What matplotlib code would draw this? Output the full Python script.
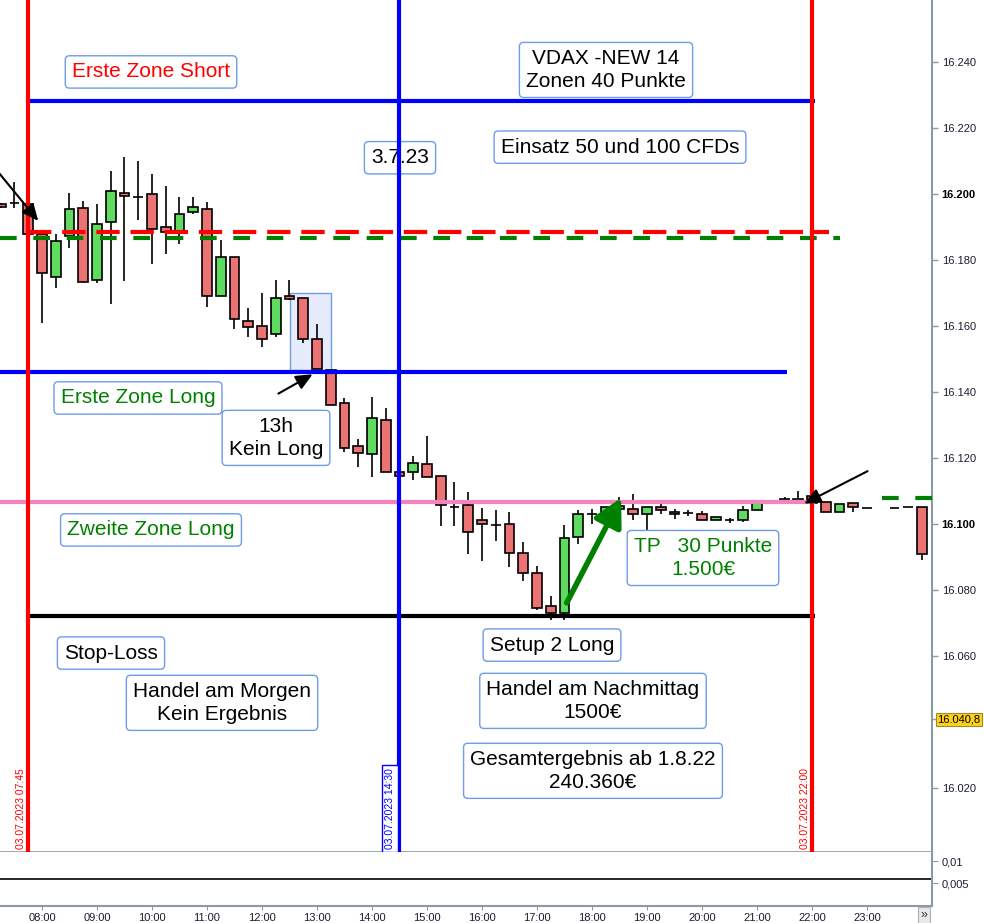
import matplotlib.pyplot as plt
import matplotlib.ticker as mticker
from matplotlib.patches import Rectangle

# 15-minute candles, 03.07.2023
times = ["07:15", "07:30", "07:45", "08:00", "08:15", "08:30", "08:45", "09:00",
         "09:15", "09:30", "09:45", "10:00", "10:15", "10:30", "10:45", "11:00",
         "11:15", "11:30", "11:45", "12:00", "12:15", "12:30", "12:45", "13:00",
         "13:15", "13:30", "13:45", "14:00", "14:15", "14:30", "14:45", "15:00",
         "15:15", "15:30", "15:45", "16:00", "16:15", "16:30", "16:45", "17:00",
         "17:15", "17:30", "17:45", "18:00", "18:15", "18:30", "18:45", "19:00",
         "19:15", "19:30", "19:45", "20:00", "20:15", "20:30", "20:45", "21:00",
         "21:15", "21:30", "21:45", "22:00", "22:15", "22:30", "22:45", "23:00",
         "23:30", "23:45", "00:00"]
opens = [16197.0, 16197.3, 16197.0, 16187.9, 16174.8, 16187.3, 16195.8, 16173.9,
         16191.5, 16200.3, 16199.1, 16200.0, 16190.0, 16188.2, 16194.5, 16195.5,
         16169.1, 16180.9, 16161.5, 16160.0, 16157.6, 16169.1, 16168.5, 16156.1,
         16146.7, 16136.7, 16123.6, 16121.2, 16131.5, 16115.8, 16115.8, 16118.2,
         16114.5, 16105.2, 16105.8, 16101.2, 16099.7, 16100.0, 16091.2, 16085.2,
         16075.2, 16073.0, 16096.1, 16103.0, 16103.6, 16104.5, 16104.5, 16103.0,
         16105.2, 16103.6, 16103.3, 16103.0, 16101.2, 16101.2, 16101.2, 16104.2,
         16106.7, 16107.6, 16106.4, 16108.5, 16106.7, 16103.6, 16106.4, 16104.8,
         16104.8, 16105.2, 16105.2]
highs = [16197.3, 16203.6, 16197.0, 16187.9, 16187.9, 16200.3, 16197.9, 16197.0,
         16207.0, 16211.2, 16210.0, 16206.1, 16202.4, 16199.1, 16199.1, 16197.6,
         16186.1, 16180.9, 16165.5, 16170.0, 16173.9, 16173.9, 16168.5, 16160.6,
         16146.7, 16138.2, 16125.8, 16138.5, 16135.2, 16115.8, 16120.6, 16126.7,
         16114.5, 16112.7, 16109.7, 16104.8, 16104.2, 16103.6, 16094.5, 16087.3,
         16078.2, 16099.7, 16104.2, 16104.5, 16105.2, 16108.2, 16109.1, 16105.2,
         16106.4, 16104.5, 16104.2, 16103.9, 16102.1, 16101.8, 16105.5, 16106.7,
         16107.0, 16108.2, 16110.0, 16108.5, 16106.7, 16106.1, 16106.4, 16104.8,
         16104.8, 16105.2, 16105.2]
lows = [16195.8, 16195.8, 16187.9, 16160.9, 16171.5, 16183.6, 16173.3, 16173.0,
        16166.7, 16173.6, 16192.1, 16178.8, 16181.8, 16184.8, 16194.0, 16165.8,
        16169.1, 16159.1, 16156.7, 16153.6, 16156.7, 16167.9, 16154.8, 16147.0,
        16136.1, 16121.8, 16117.3, 16114.2, 16115.8, 16114.5, 16113.3, 16114.2,
        16099.4, 16099.4, 16090.9, 16088.8, 16094.8, 16087.0, 16082.7, 16073.9,
        16070.9, 16070.9, 16093.9, 16100.0, 16102.1, 16103.6, 16101.2, 16097.9,
        16103.0, 16101.5, 16102.4, 16101.2, 16101.2, 16100.3, 16100.6, 16104.2,
        16106.7, 16106.4, 16106.4, 16106.4, 16103.6, 16103.6, 16103.6, 16104.8,
        16104.8, 16105.2, 16089.1]
closes = [16196.1, 16197.2, 16187.9, 16176.1, 16185.8, 16195.5, 16173.3, 16190.9,
          16200.9, 16199.4, 16199.1, 16189.4, 16188.5, 16193.9, 16196.1, 16169.1,
          16180.9, 16162.1, 16159.7, 16156.1, 16168.5, 16168.2, 16156.1, 16147.0,
          16136.1, 16123.0, 16121.5, 16132.1, 16115.8, 16114.5, 16118.5, 16114.2,
          16105.8, 16105.2, 16097.6, 16100.0, 16099.7, 16091.2, 16085.2, 16074.5,
          16073.0, 16095.8, 16103.0, 16103.0, 16105.2, 16105.5, 16103.0, 16105.2,
          16104.2, 16103.0, 16103.3, 16101.2, 16102.1, 16101.2, 16104.2, 16106.4,
          16106.7, 16106.4, 16107.6, 16106.4, 16103.6, 16106.1, 16105.2, 16104.8,
          16104.8, 16105.2, 16090.9]

# zone levels
zone_short = 16228.2
zone_long_1 = 16146.1
zone_long_2 = 16106.7
stop_loss = 16072.1
entry_red = 16188.5
entry_green = 16186.7
entry_green_late = 16107.9
last_price = 16040.8

session_start = "07:45"
setup_time = "14:30"
session_end = "22:00"

hour_labels = ["08:00", "09:00", "10:00", "11:00", "12:00", "13:00", "14:00", "15:00",
               "16:00", "17:00", "18:00", "19:00", "20:00", "21:00", "22:00", "23:00"]
price_ticks = [16020, 16060, 16080, 16100, 16120, 16140, 16160,
               16180, 16200, 16220, 16240]
osc_ticks = [0.005, 0.01]
osc_value = 0.0059


def hrs(s):
    h, m = map(int, s.split(":"))
    if h < 7:
        h += 24
    return h + m / 60


t = [hrs(s) for s in times]
t0, t1, t2 = hrs(session_start), hrs(setup_time), hrs(session_end)

FONT = "Liberation Sans"
RED = "#ff0000"
BLUE = "#0000ff"
GREEN = "#008000"
PINK = "#f584bd"
BOXEDGE = "#6f9be8"
AXGRAY = "#8c9aa5"

fig = plt.figure(figsize=(9.84, 9.23), dpi=100)
ax = fig.add_axes([0, 71 / 923, 932 / 984, 852 / 923])
ax2 = fig.add_axes([0, 17 / 923, 932 / 984, 54 / 923], sharex=ax)

xmin, xmax = 7.2364, 24.1818
ax.set_xlim(xmin, xmax)
ax.set_ylim(16000.6, 16258.8)

# candles
w = 0.18
ax.vlines(t, lows, highs, color="black", linewidth=1.2, zorder=2)
for ti, o, c in zip(t, opens, closes):
    if c > o:
        col = "#5fdc5f"
    elif c < o:
        col = "#ec7373"
    else:
        col = "black"
    ax.bar(ti, c - o, bottom=o, width=w, color=col, edgecolor="black",
           linewidth=1.2, zorder=3)

# highlighted setup area
ax.add_patch(Rectangle((12.509, 16146.7), 0.745, 23.3, facecolor="#e6ecfb",
                       edgecolor=BOXEDGE, linewidth=1, zorder=1))

# zone lines
ax.hlines(zone_short, t0, t2 + 0.05, color=BLUE, linewidth=3, zorder=4)
ax.hlines(zone_long_1, xmin, 21.55, color=BLUE, linewidth=3, zorder=4)
ax.hlines(zone_long_2, xmin, t2 + 0.05, color=PINK, linewidth=3, zorder=4)
ax.hlines(stop_loss, t0, t2 + 0.05, color="black", linewidth=3, zorder=4)
ax.plot([t0, 22.3], [entry_red, entry_red], color=RED, linewidth=3,
        dashes=(5.6, 2.6), zorder=5)
ax.plot([xmin, 22.5], [entry_green, entry_green], color=GREEN, linewidth=3,
        dashes=(4, 4), zorder=5)
ax.plot([23.27, xmax], [entry_green_late, entry_green_late], color=GREEN,
        linewidth=3, dashes=(4, 4), zorder=5)

for tv, col in [(t0, RED), (t1, BLUE), (t2, RED)]:
    ax.axvline(tv, color=col, linewidth=3, zorder=6)

# vertical date labels
for tv, col, dx, boxed in [(t0, RED, -5, False), (t1, BLUE, -7, True), (t2, RED, -5, False)]:
    ax.annotate(f"03.07.2023 {tv // 1:02.0f}:{round(tv % 1 * 60):02d}",
                xy=(tv, 0), xycoords=("data", "axes fraction"),
                xytext=(dx, 2), textcoords="offset points",
                rotation=90, ha="center", va="bottom", fontsize=7.5,
                family=FONT, color=col, zorder=7,
                bbox=dict(boxstyle="square,pad=0.3", facecolor="white",
                          edgecolor=BLUE, linewidth=1) if boxed else None)

# arrows
ax.annotate("", xy=(7.964, 16191.2), xytext=(7.054, 16209.7),
            arrowprops=dict(arrowstyle="-|>,head_length=1.0,head_width=0.45",
                            mutation_scale=10, color="black", lw=1.5), zorder=8)
ax.annotate("", xy=(12.964, 16145.8), xytext=(12.254, 16139.1),
            arrowprops=dict(arrowstyle="-|>,head_length=1.0,head_width=0.45",
                            mutation_scale=10, color="black", lw=1.5), zorder=8)
ax.annotate("", xy=(21.813, 16105.8), xytext=(23.055, 16116.4),
            arrowprops=dict(arrowstyle="-|>,head_length=1.0,head_width=0.45",
                            mutation_scale=10, color="black", lw=1.5), zorder=8)
ax.annotate("", xy=(18.53, 16107.9), xytext=(17.54, 16076.1),
            arrowprops=dict(arrowstyle="-|>,head_length=1.4,head_width=0.75",
                            mutation_scale=12, color=GREEN, lw=4,
                            shrinkA=0, shrinkB=0), zorder=8)

# text notes
notes = [
    ("Erste Zone Short", 9.982, 16237.0, RED),
    ("VDAX -NEW 14\nZonen 40 Punkte", 18.255, 16237.6, "black"),
    ("3.7.23", 14.509, 16211.0, "black"),
    ("Einsatz 50 und 100 CFDs", 18.509, 16214.2, "black"),
    ("Erste Zone Long", 9.745, 16138.2, GREEN),
    ("13h\nKein Long", 12.2545, 16126.1, "black"),
    ("Zweite Zone Long", 9.982, 16098.2, GREEN),
    ("TP   30 Punkte\n1.500€", 20.018, 16089.7, GREEN),
    ("Setup 2 Long", 17.273, 16063.3, "black"),
    ("Stop-Loss", 9.2545, 16060.9, "black"),
    ("Handel am Morgen\nKein Ergebnis", 11.273, 16045.8, "black"),
    ("Handel am Nachmittag\n1500€", 18.018, 16046.4, "black"),
    ("Gesamtergebnis ab 1.8.22\n240.360€", 18.018, 16025.2, "black"),
]
for txt, x, y, col in notes:
    ax.text(x, y, txt, ha="center", va="center", multialignment="center",
            fontsize=15, family=FONT, color=col, linespacing=1.25, zorder=5,
            bbox=dict(boxstyle="round,pad=0.32,rounding_size=0.2",
                      facecolor="none", edgecolor=BOXEDGE, linewidth=1))

# right price axis
ax.yaxis.tick_right()
ax.set_yticks(price_ticks + [last_price])
ax.yaxis.set_major_formatter(mticker.FuncFormatter(
    lambda v, p: "" if v == last_price else f"{v / 1000:.3f}"))
ax.tick_params(axis="y", direction="out", length=4, width=1, color=AXGRAY,
               labelsize=8, labelcolor="#1c1c30", pad=3)
for lab in ax.get_yticklabels():
    lab.set_family(FONT)
    if lab.get_text() in ("16.100", "16.200"):
        lab.set_fontweight("bold")
        lab.set_color("black")
ax.annotate("16.260", xy=(1, 16260), xycoords=("axes fraction", "data"),
            xytext=(7, 0), textcoords="offset points", va="center", ha="left",
            fontsize=8, family=FONT, color="#1c1c30", annotation_clip=False)
ax.annotate(f"{last_price:,.1f}".replace(",", "X").replace(".", ",").replace("X", "."),
            xy=(1, last_price), xycoords=("axes fraction", "data"),
            xytext=(4, 0), textcoords="offset points", va="center", ha="left",
            fontsize=8, family=FONT, color="black", annotation_clip=False,
            bbox=dict(boxstyle="square,pad=0.15", facecolor="#ffd21a",
                      edgecolor="#a08a30", linewidth=0.8))

ax.tick_params(axis="x", bottom=False, labelbottom=False)
for side in ["left", "top"]:
    ax.spines[side].set_visible(False)
ax.spines["right"].set_color(AXGRAY)
ax.spines["right"].set_linewidth(1.5)
ax.spines["bottom"].set_color(AXGRAY)
ax.spines["bottom"].set_linewidth(1.2)

# lower panel
ax2.set_ylim(-0.0002, 0.01205)
ax2.axhline(osc_value, color="black", linewidth=1.2)
ax2.yaxis.tick_right()
ax2.set_yticks(osc_ticks)
ax2.set_yticklabels([f"{v:g}".replace(".", ",") for v in osc_ticks])
ax2.tick_params(axis="y", direction="out", length=4, color=AXGRAY,
                labelsize=8, labelcolor="#1c1c30", pad=3)
ax2.set_xticks([hrs(s) for s in hour_labels])
ax2.set_xticklabels(hour_labels)
ax2.tick_params(axis="x", direction="out", length=3, color=AXGRAY,
                labelsize=8, labelcolor="#1c1c30", pad=2)
for lab in ax2.get_xticklabels() + ax2.get_yticklabels():
    lab.set_family(FONT)
for side in ["left", "top"]:
    ax2.spines[side].set_visible(False)
for side in ["right", "bottom"]:
    ax2.spines[side].set_color(AXGRAY)
    ax2.spines[side].set_linewidth(1.5)

fig.text(924 / 984, 8 / 923, "»", ha="center", va="center", fontsize=9,
         color="#333333", family=FONT,
         bbox=dict(boxstyle="square,pad=0.2", facecolor="#e8e8e8",
                   edgecolor="#b0b0b0", linewidth=0.8))

fig.savefig("out.png", dpi=100)
